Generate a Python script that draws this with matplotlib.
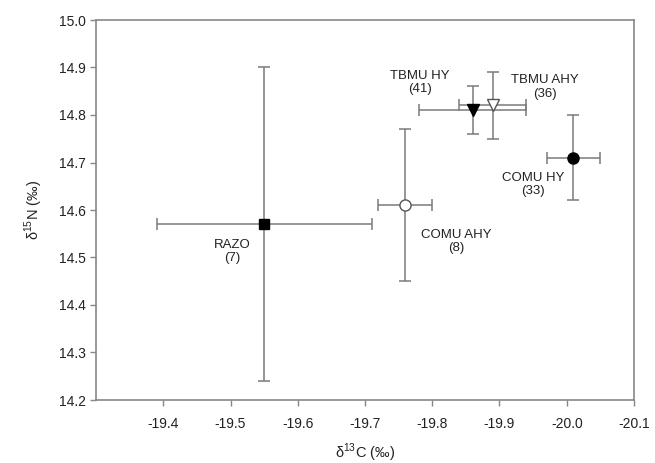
import matplotlib
matplotlib.use("Agg")
import matplotlib.pyplot as plt

plt.rcParams['font.family'] = ['Liberation Sans', 'DejaVu Sans']
plt.rcParams['mathtext.fontset'] = 'custom'
plt.rcParams['mathtext.rm'] = 'Liberation Sans'

groups = ["RAZO", "COMU AHY", "TBMU HY", "TBMU AHY", "COMU HY"]
n_samples = [7, 8, 41, 36, 33]
d13c = [-19.55, -19.76, -19.86, -19.89, -20.01]
d13c_err = [0.16, 0.04, 0.08, 0.05, 0.04]
d15n = [14.57, 14.61, 14.81, 14.82, 14.71]
d15n_err = [0.33, 0.16, 0.05, 0.07, 0.09]
markers = ["s", "o", "v", "v", "o"]
filled = [True, False, True, False, True]
# label anchor positions (data coords)
label_x = [-19.502, -19.835, -19.782, -19.968, -19.950]
label_y = [14.513, 14.533, 14.869, 14.859, 14.654]

xticks = [-19.4, -19.5, -19.6, -19.7, -19.8, -19.9, -20.0, -20.1]
yticks = [14.2, 14.3, 14.4, 14.5, 14.6, 14.7, 14.8, 14.9, 15.0]

fig = plt.figure(figsize=(6.55, 4.63), dpi=100)
ax = fig.add_axes([96/655, 1-400/463, (634-96)/655, (400-20)/463])

ecol = '#7a7a7a'
for i in range(len(groups)):
    ax.errorbar(d13c[i], d15n[i], xerr=d13c_err[i], yerr=d15n_err[i],
                fmt='none', ecolor=ecol, elinewidth=1.1, capsize=4, capthick=1.1, zorder=2)
for i in range(len(groups)):
    ms = 7 if markers[i] == 's' else 8
    ax.plot(d13c[i], d15n[i], marker=markers[i], ms=ms,
            mfc='black' if filled[i] else 'white',
            mec='black' if filled[i] else '#555555', mew=1.0, ls='none', zorder=3)
    ax.text(label_x[i], label_y[i], f"{groups[i]}\n({n_samples[i]})", ha='center', va='center',
            fontsize=9.5, color='#222222', linespacing=1.15)

ax.set_xlim(-19.3, -20.1)
ax.set_ylim(14.2, 15.0)
ax.set_xticks(xticks)
ax.set_yticks(yticks)
ax.set_xticklabels([f"{v:.1f}" for v in xticks])
ax.set_yticklabels([f"{v:.1f}" for v in yticks])
ax.tick_params(direction='out', length=4, width=1, color='#888888', labelsize=10,
               labelcolor='#222222', top=False, right=False)
ax.tick_params(axis='x', pad=8)
for s in ax.spines.values():
    s.set_color('#888888')
    s.set_linewidth(1.2)

ax.set_xlabel('δ$^{13}$C (‰)', fontsize=10.5, color='#222222', labelpad=8)
ax.set_ylabel('δ$^{15}$N (‰)', fontsize=10.5, color='#222222', labelpad=10)

fig.savefig('out.png', dpi=100)
